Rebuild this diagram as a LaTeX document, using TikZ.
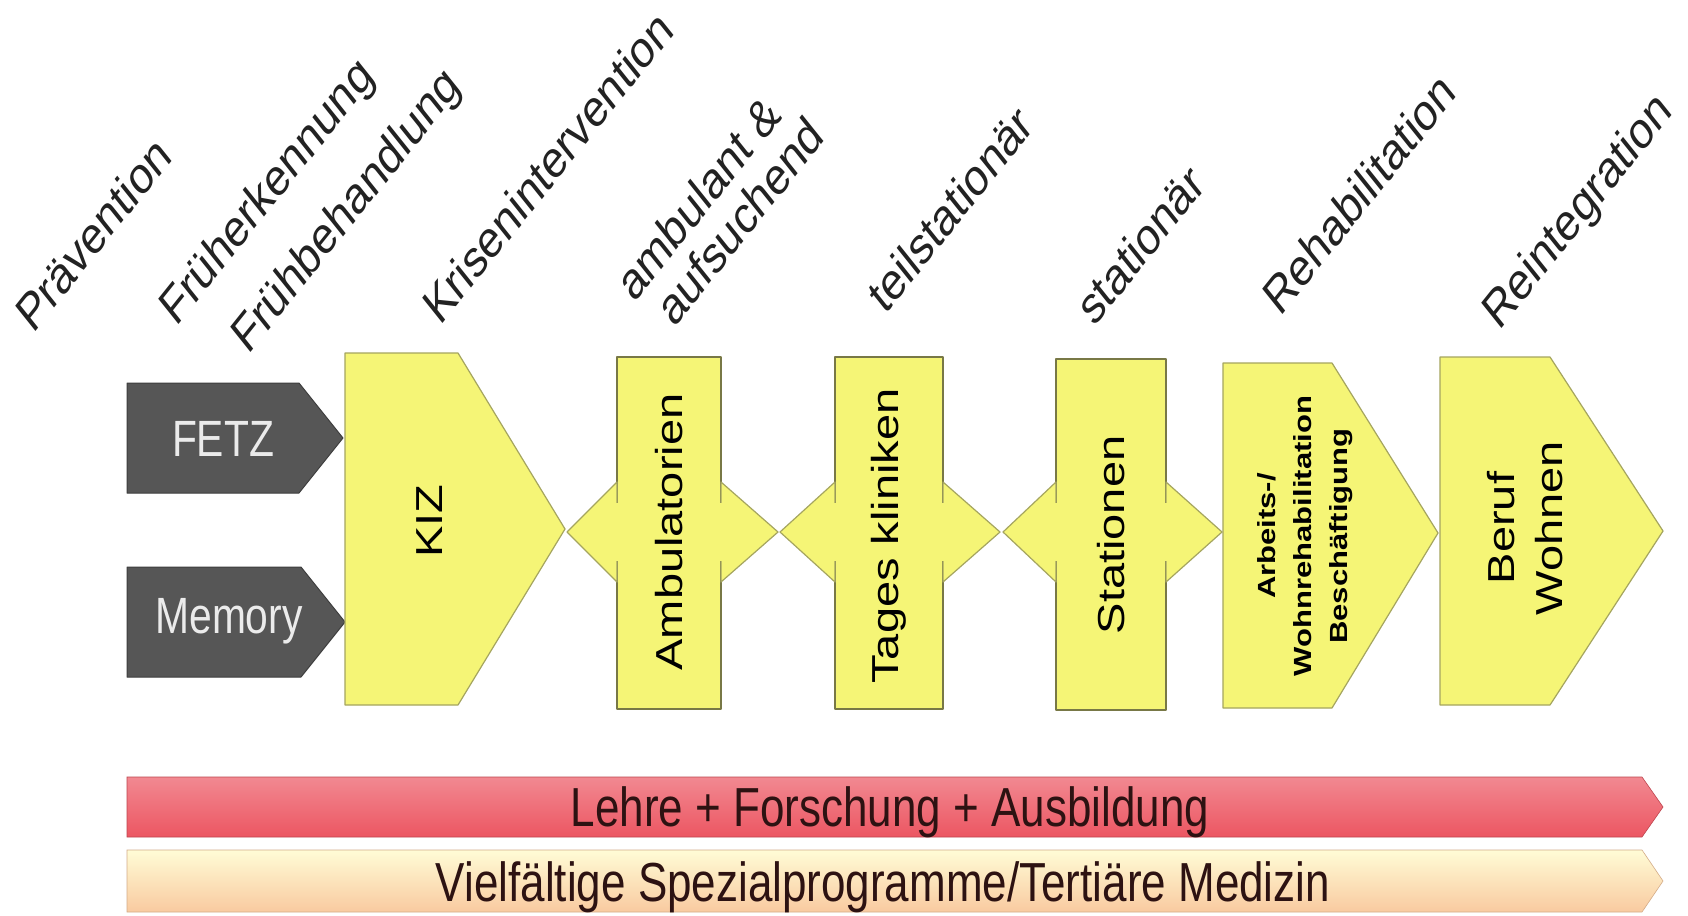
\documentclass[tikz,border=0pt]{standalone}
\usepackage{fontspec}
\setmainfont{Liberation Sans}
\usepackage{tikz}
\usetikzlibrary{positioning}
\definecolor{labelgray}{RGB}{34,34,34}
\definecolor{stageyellow}{RGB}{245,245,118}
\definecolor{stageedge}{RGB}{165,165,95}
\definecolor{baredge}{RGB}{120,120,70}
\definecolor{entrygray}{RGB}{86,86,86}
\definecolor{entryedge}{RGB}{62,62,62}
\definecolor{teachred}{RGB}{236,86,98}
\definecolor{creamtop}{RGB}{255,252,214}
\definecolor{creambottom}{RGB}{249,202,160}
\definecolor{bandtext}{RGB}{45,18,18}
\tikzset{
	care chain/.style={
		x=1pt,y=-1pt,
		squeezed/.style={% the whole picture is narrowed
			xscale=0.8,
			inner sep=0pt
		},
		phase label/.style={
			squeezed,
			rotate=45,
			anchor=base west,
			text=labelgray,
			font=\fontsize{52}{60}\selectfont
		},
		stage/.style={
			fill=stageyellow,
			draw=stageedge,
			line width=1.2pt,
			line join=round
		},
		stage bar/.style={
			stage,
			draw=baredge,
			line width=1.6pt
		},
		stage text/.style={
			squeezed,
			rotate=90,
			font=\fontsize{47}{60}\selectfont
		},
		shaft/.style={
			fill=stageyellow
		},
		entry/.style={
			fill=entrygray,
			draw=entryedge,
			line width=1pt,
			line join=round
		},
		entry text/.style={
			squeezed,
			text=white!92!black,
			font=\fontsize{51}{56}\selectfont
		},
		red band/.style={
			top color=teachred!70!white,
			bottom color=teachred,
			draw=teachred!80!black,
			line width=0.6pt
		},
		cream band/.style={
			top color=creamtop,
			bottom color=creambottom,
			draw=creambottom!85!black,
			line width=0.6pt
		},
		band text/.style={
			squeezed,
			text=bandtext,
			font=\fontsize{55}{60}\selectfont
		}
	}
}

\begin{document}
\begin{tikzpicture}[care chain]
	\fill[white] (0,0) rectangle (1688,915);
	\useasboundingbox (0,0) rectangle (1688,915);
	% phases
	\node[phase label] (praev) at (33,335) {Prävention};
	\node[phase label] (fruehA) at (176,328) {Früherkennung};
	\node[phase label] (fruehB) at (248,356) {Frühbehandlung};
	\node[phase label] (krise) at (440,327) {Krisenintervention};
	\node[phase label] (ambA) at (634,304) {ambulant \&};
	\node[phase label] (ambB) at (674,329) {aufsuchend};
	\node[phase label] (teil) at (885,316) {teilstationär};
	\node[phase label] (stat) at (1094,328) {stationär};
	\node[phase label] (reha) at (1280,318) {Rehabilitation};
	\node[phase label] (reint) at (1499,332) {Reintegration};
	% entry points
	\draw[entry] (127,383) -- (299,383) -- (343,438) -- (299,493) -- (127,493) -- cycle;
	\node[entry text] (fetz) at (223,439) {FETZ};
	\draw[entry] (127,567) -- (301,567) -- (345,622) -- (301,677) -- (127,677) -- cycle;
	\node[entry text] (memory) at (229,621) {Memory};
	% KIZ
	\draw[stage] (345,353) -- (458,353) -- (565,529) -- (458,705) -- (345,705) -- cycle;
	\node[stage text] (kiz) at (430,521) {KIZ};
	% Ambulatorien
	\draw[stage bar] (617,357) rectangle (721,709);
	\draw[stage] (617,482) -- (567,532) -- (617,582) -- cycle;
	\draw[stage] (721,482) -- (778,532) -- (721,582) -- cycle;
	\fill[shaft] (616,503) rectangle (722,561);
	\node[stage text] (ambul) at (669,532) {Ambulatorien};
	% Tageskliniken
	\draw[stage bar] (835,357) rectangle (943,709);
	\draw[stage] (835,482) -- (780,532) -- (835,582) -- cycle;
	\draw[stage] (943,482) -- (1000,532) -- (943,582) -- cycle;
	\fill[shaft] (834,503) rectangle (944,561);
	\node[stage text] (tages) at (889,536) {Tages kliniken};
	% Stationen
	\draw[stage bar] (1056,359) rectangle (1166,710);
	\draw[stage] (1056,482) -- (1003,532) -- (1056,582) -- cycle;
	\draw[stage] (1166,482) -- (1222,532) -- (1166,582) -- cycle;
	\fill[shaft] (1055,503) rectangle (1167,561);
	\node[stage text] (station) at (1111,535) {Stationen};
	% Rehabilitation
	\draw[stage] (1223,363) -- (1332,363) -- (1438,533) -- (1332,708) -- (1223,708) -- cycle;
	\node[stage text,align=center,font=\bfseries\fontsize{31}{45}\selectfont] (arbeit) at (1305,536) {Arbeits-/\\Wohnrehabilitation\\Beschäftigung};
	% Reintegration
	\draw[stage] (1440,357) -- (1550,357) -- (1663,531) -- (1550,705) -- (1440,705) -- cycle;
	\node[stage text,align=center] (beruf) at (1525,528) {Beruf\\Wohnen};
	% bands
	\draw[red band] (127,777) -- (1642,777) -- (1663,807) -- (1642,837) -- (127,837) -- cycle;
	\node[band text] (lehre) at (890,812) {Lehre + Forschung + Ausbildung};
	\draw[cream band] (127,850) -- (1642,850) -- (1663,881) -- (1642,912) -- (127,912) -- cycle;
	\node[band text] (spezial) at (883,887) {Vielfältige Spezialprogramme/Tertiäre Medizin};
\end{tikzpicture}
\end{document}
